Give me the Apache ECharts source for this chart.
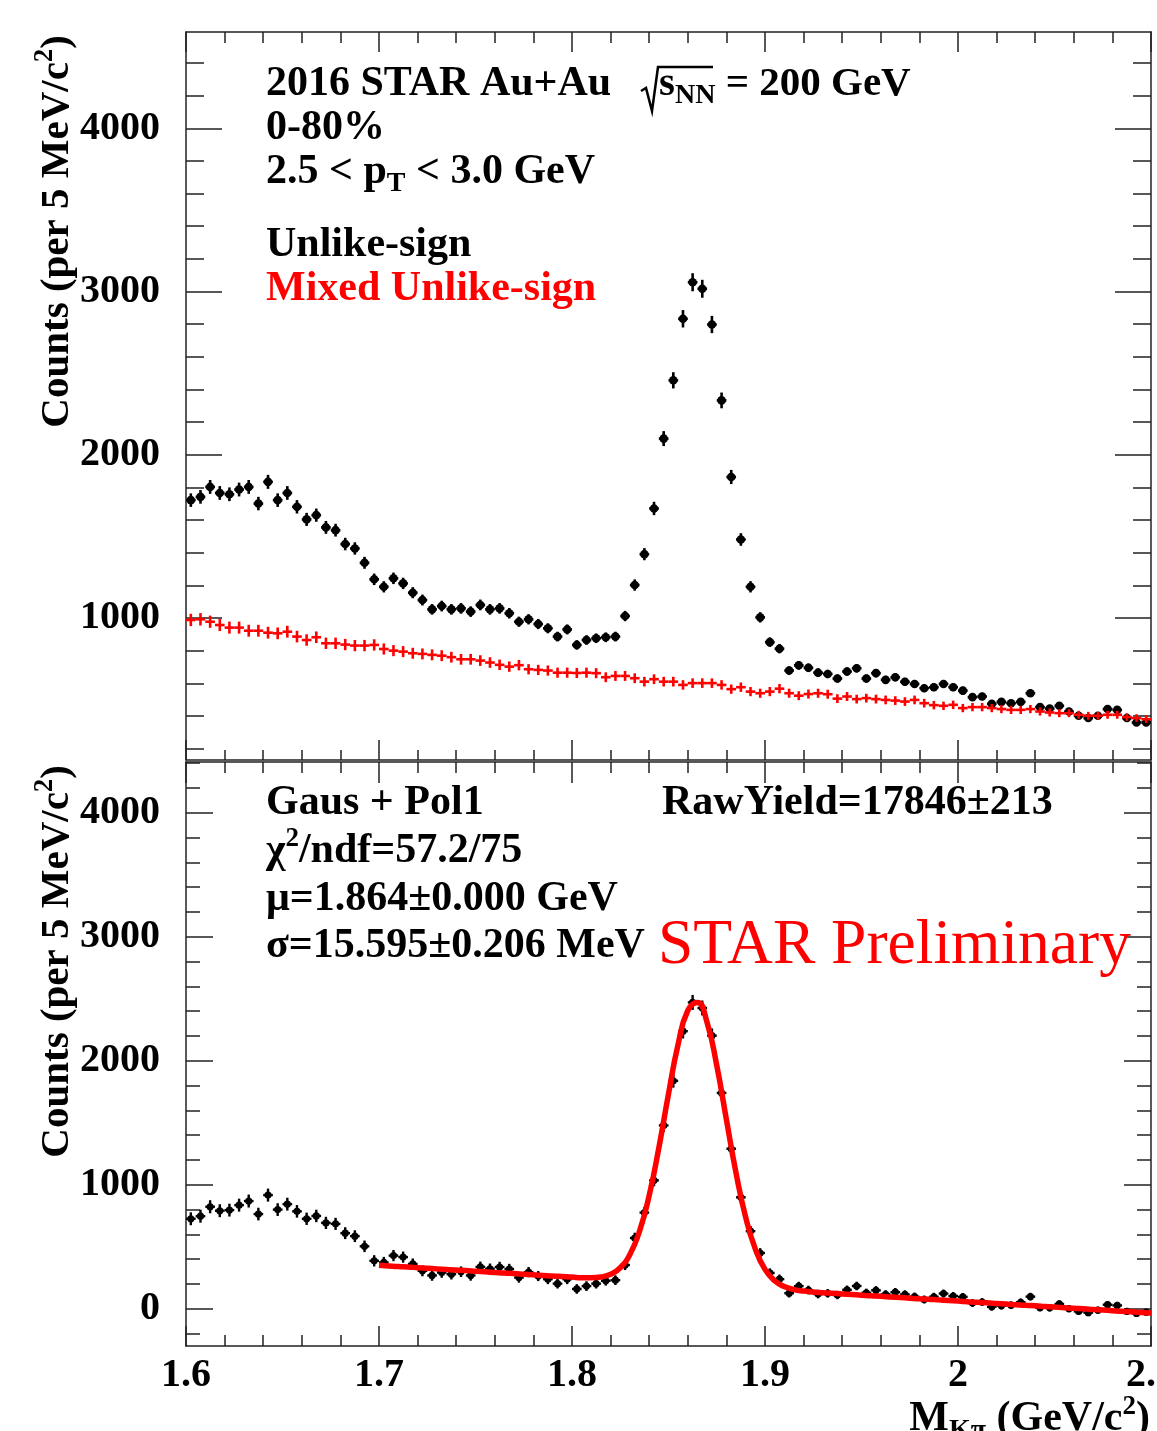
<!DOCTYPE html>
<html><head><meta charset="utf-8">
<script src="https://cdn.jsdelivr.net/npm/echarts@6/dist/echarts.min.js"></script>
<style>html,body{margin:0;padding:0;background:#fff}#c{width:1157px;height:1431px}</style>
</head><body><div id="c"></div>
<script>
// ---------------- data ----------------
const BIN_LOW = 1.6, BIN_WIDTH = 0.005;   // 5 MeV bins from 1.6 GeV
const unlikeSign = [1722,1742,1803,1766,1758,1787,1803,1701,1834,1722,1766,1681,1604,1630,1555,1538,1453,1426,1338,1237,
  1191,1243,1212,1155,1110,1053,1073,1053,1059,1039,1080,1053,1059,1029,977,992,963,937,886,930,
  835,865,876,882,886,1012,1202,1391,1671,2099,2456,2833,3057,3017,2798,2333,1864,1481,1191,1004,
  852,812,678,710,695,665,657,629,672,692,629,662,621,637,609,596,570,576,596,576,
  555,515,519,474,486,478,486,539,454,445,462,427,401,387,401,442,437,387,360,360];
const mixedUnlikeSign = [988,992,977,957,941,941,922,922,910,906,916,886,865,882,845,845,837,831,831,835,
  810,800,794,784,780,774,769,760,747,747,739,727,713,702,711,686,682,678,665,665,
  663,665,662,637,645,645,631,610,625,610,610,590,601,601,601,590,564,576,549,539,
  549,567,539,524,534,539,533,506,519,503,509,503,498,494,488,498,478,466,462,468,
  448,454,454,448,442,437,437,442,427,421,417,417,407,401,401,407,407,393,387,380];
const subtracted = [725,746,822,790,795,835,868,763,916,799,843,785,725,748,692,684,609,585,503,386,
  373,428,416,361,305,268,292,278,298,268,337,322,336,320,251,295,263,238,202,238,
  159,182,202,225,230,352,570,775,1035,1478,1838,2238,2470,2425,2202,1740,1290,898,625,449,
  288,238,125,182,150,118,124,110,152,183,128,148,116,133,115,97,74,96,122,102,
  95,45,54,15,24,28,52,97,8,7,38,0,-22,-32,-12,32,26,-22,-38,-28];
// fit curve, read every 5 MeV from 1.700 to 2.100 GeV
const FIT_LOW = 1.7, FIT_STEP = 0.005;
const fitCounts = [350,345,340,336,331,326,321,316,311,307,302,297,292,287,283,278,273,268,263,259,
  255,250,250,256,277,330,437,625,914,1297,1732,2134,2405,2470,2307,1962,1526,1094,736,480,
  317,225,178,154,142,135,129,124,119,114,109,104,100,95,90,85,80,76,71,66,
  61,56,51,47,42,37,32,27,23,18,13,8,3,-1,-6,-11,-16,-21,-25,-30,-35];
const topMajorY = [1000,2000,3000,4000];
const topMinorY = [200,400,600,800,1200,1400,1600,1800,2200,2400,2600,2800,3200,3400,3600,3800,4200,4400];
const botMajorY = [0,1000,2000,3000,4000];
const botMinorY = [-200,200,400,600,800,1200,1400,1600,1800,2200,2400,2600,2800,3200,3400,3600,3800,4200,4400];

// ---------------- chart ----------------
const SERIF = '"Liberation Serif","Times New Roman",serif';
const FRAME = '#222';
const RED = '#ff0000';
const FS = 42;

const binCenter = i => BIN_LOW + (i + 0.5) * BIN_WIDTH;
const topBlack = unlikeSign.map((v, i) => [binCenter(i), v, Math.sqrt(v)]);
const topRed = mixedUnlikeSign.map((v, i) => [binCenter(i), v, Math.sqrt(v) * 1.2]);
const botBlack = subtracted.map((v, i) => [binCenter(i), v, Math.sqrt(unlikeSign[i] + mixedUnlikeSign[i])]);
const fitData = fitCounts.map((v, i) => [FIT_LOW + i * FIT_STEP, v]);

function errRender(color, r, lw) {
  return function (params, api) {
    const x = api.value(0), v = api.value(1), e = api.value(2);
    const c = api.coord([x, v]);
    const hi = api.coord([x, v + e]), lo = api.coord([x, v - e]);
    const l = api.coord([x - BIN_WIDTH / 2, v]), rr = api.coord([x + BIN_WIDTH / 2, v]);
    const children = [
      {type: 'line', shape: {x1: l[0], y1: c[1], x2: rr[0], y2: c[1]}, style: {stroke: color, lineWidth: lw}},
      {type: 'line', shape: {x1: c[0], y1: hi[1], x2: c[0], y2: lo[1]}, style: {stroke: color, lineWidth: lw}}
    ];
    if (r > 0) children.push({type: 'circle', shape: {cx: c[0], cy: c[1], r: r}, style: {fill: color}});
    return {type: 'group', children: children};
  };
}

function xAxis(grid, pos, labels, major, minor) {
  return {
    type: 'value', gridIndex: grid, position: pos, min: 1.6, max: 2.1, interval: 0.1,
    axisLine: {show: true, onZero: false, lineStyle: {color: FRAME, width: 1.5}},
    axisTick: {show: true, inside: true, length: major, lineStyle: {color: FRAME, width: 1.5}},
    minorTick: {show: true, splitNumber: 5, length: minor, lineStyle: {color: FRAME, width: 1.5}},
    splitLine: {show: false}, minorSplitLine: {show: false},
    axisLabel: labels ? {
      show: true, margin: 10, color: '#000', fontFamily: SERIF, fontWeight: 'bold', fontSize: 40,
      showMinLabel: true, showMaxLabel: true,
      formatter: v => String(+(+v).toFixed(1))
    } : {show: false}
  };
}
function yAxis(grid, pos, min, max, ticks, len, labels, line) {
  return {
    type: 'value', gridIndex: grid, position: pos, min: min, max: max,
    axisLine: {show: line, onZero: false, lineStyle: {color: FRAME, width: 1.5}},
    axisTick: {show: true, inside: true, length: len, customValues: ticks, lineStyle: {color: FRAME, width: 1.5}},
    splitLine: {show: false},
    axisLabel: labels ? {
      show: true, margin: 26, color: '#000', fontFamily: SERIF, fontWeight: 'bold', fontSize: 40,
      customValues: ticks, formatter: v => String(v)
    } : {show: false}
  };
}

const rich = {
  b: {fontFamily: SERIF, fontSize: FS, fontWeight: 'bold', fill: '#000'},
  b41: {fontFamily: SERIF, fontSize: 41, fontWeight: 'bold', fill: '#000'},
  r: {fontFamily: SERIF, fontSize: FS, fontWeight: 'bold', fill: RED},
  sub: {fontFamily: SERIF, fontSize: 28, fontWeight: 'bold', fill: '#000', padding: [24, 0, 0, 0]},
  sup: {fontFamily: SERIF, fontSize: 27, fontWeight: 'bold', fill: '#000', padding: [0, 0, 24, 0]}
};
function txt(x, y, text, extra) {
  return Object.assign({
    type: 'text', x: x, y: y, z: 100,
    style: {text: text, rich: rich, fontFamily: SERIF, fontSize: FS, fontWeight: 'bold', fill: '#000',
      align: 'left', verticalAlign: 'middle', textAlign: 'left', textVerticalAlign: 'middle'}
  }, extra || {});
}
function rotTitle(y) {
  return {
    type: 'text', x: 57, y: y, rotation: Math.PI / 2, z: 100,
    style: {text: '{b41|Counts (per 5 MeV/c}{sup|2}{b41|)}', rich: rich,
      fontFamily: SERIF, fontSize: 41, fontWeight: 'bold',
      fill: '#000', align: 'right', verticalAlign: 'middle', textAlign: 'right', textVerticalAlign: 'middle'}
  };
}

const option = {
  backgroundColor: '#fff',
  animation: false,
  grid: [
    {left: 186, top: 32, width: 965, height: 728, containLabel: false, outerBoundsMode: 'none'},
    {left: 186, top: 762, width: 965, height: 584, containLabel: false, outerBoundsMode: 'none'}
  ],
  xAxis: [
    xAxis(0, 'bottom', false, 20, 10),
    xAxis(0, 'top', false, 20, 11),
    xAxis(1, 'bottom', true, 20, 11),
    xAxis(1, 'top', false, 21, 11)
  ],
  yAxis: [
    yAxis(0, 'left', 130, 4590, topMajorY, 36, true, true),
    yAxis(0, 'left', 130, 4590, topMinorY, 18, false, false),
    yAxis(0, 'right', 130, 4590, topMajorY, 36, false, true),
    yAxis(0, 'right', 130, 4590, topMinorY, 18, false, false),
    yAxis(1, 'left', -301, 4409, botMajorY, 27, true, true),
    yAxis(1, 'left', -301, 4409, botMinorY, 14, false, false),
    yAxis(1, 'right', -301, 4409, botMajorY, 27, false, true),
    yAxis(1, 'right', -301, 4409, botMinorY, 14, false, false)
  ],
  series: [
    {type: 'custom', name: 'Unlike-sign', xAxisIndex: 0, yAxisIndex: 0, data: topBlack, z: 5,
      renderItem: errRender('#000', 4.3, 2.6)},
    {type: 'custom', name: 'Mixed Unlike-sign', xAxisIndex: 0, yAxisIndex: 0, data: topRed, z: 6,
      renderItem: errRender(RED, 0, 2.6)},
    {type: 'custom', name: 'Unlike - Mixed', xAxisIndex: 2, yAxisIndex: 4, data: botBlack, z: 5,
      renderItem: errRender('#000', 3.6, 2.4)},
    {type: 'line', name: 'Gaus + Pol1', xAxisIndex: 2, yAxisIndex: 4, data: fitData, z: 10,
      smooth: true, symbol: 'none', showSymbol: false, lineStyle: {color: RED, width: 5.5}}
  ],
  graphic: [
    txt(266, 84, '{b|2016 STAR Au+Au}'),
    {type: 'polyline', z: 100, shape: {points: [[641, 91], [646, 88], [652, 111], [658, 67], [713, 67]]},
      style: {stroke: '#000', lineWidth: 2.5, fill: null}},
    txt(659, 84, '{b41|s}{sub|NN}{b41| = 200 GeV}'),
    txt(266, 128, '{b|0-80%}'),
    txt(266, 172, '{b|2.5 < p}{sub|T}{b| < 3.0 GeV}'),
    txt(266, 245, '{b|Unlike-sign}'),
    txt(266, 289, '{r|Mixed Unlike-sign}'),
    txt(266, 803, '{b|Gaus + Pol1}'),
    txt(662, 803, '{b|RawYield=17846±213}'),
    txt(266, 851, '{b|χ}{sup|2}{b|/ndf=57.2/75}'),
    txt(266, 899, '{b|μ=1.864±0.000 GeV}'),
    txt(266, 946, '{b|σ=15.595±0.206 MeV}'),
    {type: 'text', x: 658, y: 946, z: 100,
      style: {text: 'STAR Preliminary', fontFamily: SERIF, fontSize: 63.5, fontWeight: 'normal', fill: RED,
        align: 'left', verticalAlign: 'middle', textAlign: 'left', textVerticalAlign: 'middle'}},
    rotTitle(35),
    rotTitle(765),
    {type: 'text', x: 1150, y: 1419, z: 100,
      style: {text: '{b|M}{sub|Kπ}{b| (GeV/c}{sup|2}{b|)}', rich: rich, fontFamily: SERIF, fontSize: FS, fontWeight: 'bold',
        fill: '#000', align: 'right', verticalAlign: 'middle', textAlign: 'right', textVerticalAlign: 'middle'}}
  ]
};

const chart = echarts.init(document.getElementById('c'), null, {renderer: 'canvas', width: 1157, height: 1431});
chart.setOption(option);
</script>
</body></html>
